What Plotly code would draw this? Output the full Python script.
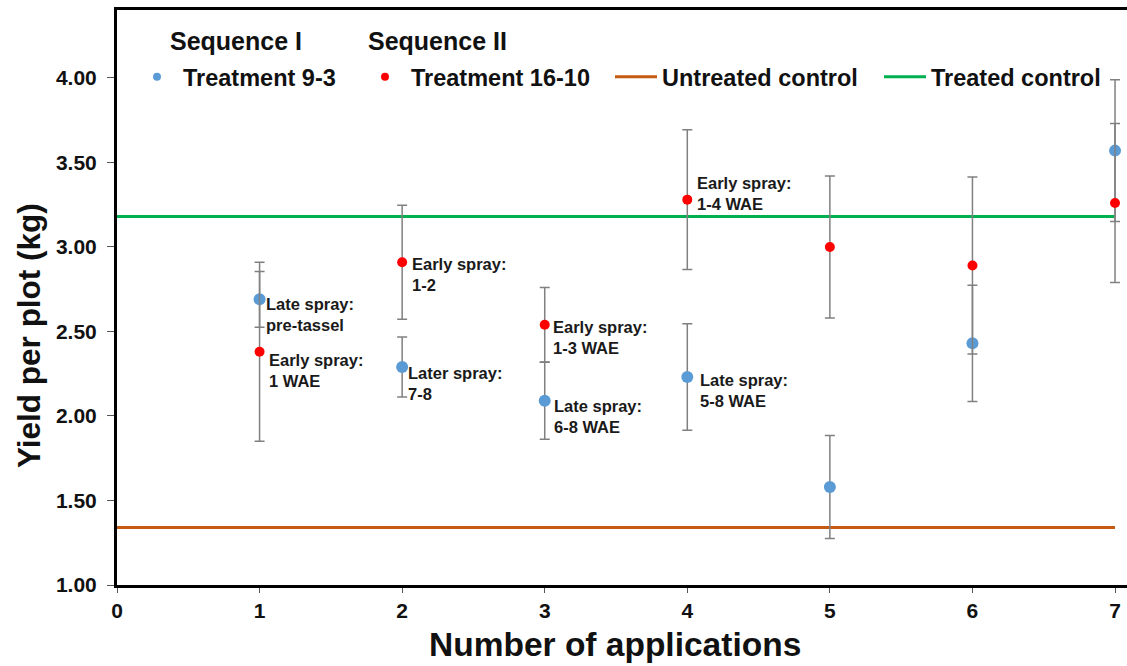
import plotly.graph_objects as go

# ---------------- data ----------------
applications = [1, 2, 3, 4, 5, 6, 7]
treat_9_3 = [2.69, 2.29, 2.09, 2.23, 1.58, 2.43, 3.57]
treat_9_3_err = [0.165, 0.177, 0.228, 0.315, 0.305, 0.344, 0.419]
treat_16_10 = [2.38, 2.91, 2.54, 3.28, 3.00, 2.89, 3.26]
treat_16_10_err = [0.53, 0.337, 0.22, 0.414, 0.42, 0.524, 0.47]
control_x = [0, 7]
untreated_control = [1.34, 1.34]
treated_control = [3.18, 3.18]

x_ticks = [0, 1, 2, 3, 4, 5, 6, 7]
y_ticks = [1.0, 1.5, 2.0, 2.5, 3.0, 3.5, 4.0]

# labels: (x, text, x-shift px, y-shift px of block centre below point)
labels_9_3 = [
    (1, "Late spray:<br>pre-tassel", 4, 15),
    (2, "Later spray:<br>7-8", 4, 17),
    (3, "Late spray:<br>6-8 WAE", 7, 16),
    (4, "Late spray:<br>5-8 WAE", 11, 13),
]
labels_16_10 = [
    (1, "Early spray:<br>1 WAE", 7, 19),
    (2, "Early spray:<br>1-2", 8, 12),
    (3, "Early spray:<br>1-3 WAE", 6, 13),
    (4, "Early spray:<br>1-4 WAE", 8, -6),
]

FONT = "Liberation Sans, Arial, sans-serif"
BLUE = "#5B9BD5"
RED = "#FF0000"
ORANGE = "#C55A11"
GREEN = "#00B050"
ERR = "#808080"

W, H = 1127, 666
ML, MR, MT, MB = 117, 0, 10, 81
PW, PH = W - ML - MR, H - MT - MB


def px(x):
    return (x - ML) / PW


def py(y):
    return (H - MB - y) / PH


fig = go.Figure()

fig.add_trace(go.Scatter(x=control_x, y=untreated_control, mode="lines",
                         line=dict(color=ORANGE, width=3), showlegend=False))
fig.add_trace(go.Scatter(x=control_x, y=treated_control, mode="lines",
                         line=dict(color=GREEN, width=3), showlegend=False))

fig.add_trace(go.Scatter(
    x=applications, y=treat_9_3, mode="markers", showlegend=False,
    marker=dict(color=BLUE, size=12),
    error_y=dict(type="data", array=treat_9_3_err, color=ERR, thickness=1.5, width=5)))
fig.add_trace(go.Scatter(
    x=applications, y=treat_16_10, mode="markers", showlegend=False,
    marker=dict(color=RED, size=10),
    error_y=dict(type="data", array=treat_16_10_err, color=ERR, thickness=1.5, width=5)))

# legend entries
fig.add_trace(go.Scatter(x=[None], y=[None], mode="markers", name="Treatment 9-3",
                         marker=dict(color=BLUE, size=8), legend="legend"))
fig.add_trace(go.Scatter(x=[None], y=[None], mode="markers", name="Treatment 16-10",
                         marker=dict(color=RED, size=8), legend="legend2"))
fig.add_trace(go.Scatter(x=[None], y=[None], mode="lines", name="Untreated control",
                         line=dict(color=ORANGE, width=3), legend="legend3"))
fig.add_trace(go.Scatter(x=[None], y=[None], mode="lines", name="Treated control",
                         line=dict(color=GREEN, width=3), legend="legend4"))

leg_font = dict(family=FONT, size=23.5, color="#111111", weight="bold")


def legend_at(xpix, iw):
    return dict(x=px(xpix), y=py(77), xanchor="left", yanchor="middle",
                orientation="h", bgcolor="rgba(0,0,0,0)", borderwidth=0,
                itemwidth=iw, font=leg_font)


lab_font = dict(family=FONT, size=16.5, color="#1a1a1a", weight="bold")
annotations = []
for x, text, dx, dy in labels_9_3:
    annotations.append(dict(x=x, y=treat_9_3[applications.index(x)], xref="x", yref="y",
                            text=text, showarrow=False, xanchor="left", yanchor="middle",
                            align="left", xshift=dx, yshift=-dy, font=lab_font))
for x, text, dx, dy in labels_16_10:
    annotations.append(dict(x=x, y=treat_16_10[applications.index(x)], xref="x", yref="y",
                            text=text, showarrow=False, xanchor="left", yanchor="middle",
                            align="left", xshift=dx, yshift=-dy, font=lab_font))

# sequence headers
head_font = dict(family=FONT, size=25, color="#111111", weight="bold")
annotations.append(dict(x=px(168), y=py(41), xref="paper", yref="paper", text="Sequence I",
                        showarrow=False, xanchor="left", yanchor="middle", font=head_font))
annotations.append(dict(x=px(366), y=py(41), xref="paper", yref="paper", text="Sequence II",
                        showarrow=False, xanchor="left", yanchor="middle", font=head_font))
# axis titles
annotations.append(dict(x=px(615), y=py(644), xref="paper", yref="paper",
                        text="Number of applications", showarrow=False,
                        xanchor="center", yanchor="middle",
                        font=dict(family=FONT, size=33.5, color="#111111", weight="bold")))
annotations.append(dict(x=px(29), y=py(336), xref="paper", yref="paper",
                        text="Yield per plot (kg)", showarrow=False, textangle=-90,
                        xanchor="center", yanchor="middle",
                        font=dict(family=FONT, size=31.5, color="#111111", weight="bold")))

fig.update_layout(
    width=W, height=H, autosize=False,
    margin=dict(l=ML, r=MR, t=MT, b=MB),
    paper_bgcolor="white", plot_bgcolor="white",
    legend=legend_at(131, 42),
    legend2=legend_at(359, 42),
    legend3=legend_at(610, 42),
    legend4=legend_at(879, 42),
    annotations=annotations,
    xaxis=dict(range=[0, 7.084], tickvals=x_ticks, ticktext=[str(v) for v in x_ticks],
               showgrid=False, zeroline=False, showline=True, linecolor="black",
               linewidth=3, mirror=True, ticks="outside", ticklen=5, tickcolor="#555555",
               tickwidth=1,
               tickfont=dict(family=FONT, size=21, color="#111111", weight="bold")),
    yaxis=dict(range=[1, 4.402], tickvals=y_ticks, ticktext=[f"{v:.2f}" for v in y_ticks],
               showgrid=False, zeroline=False, showline=True, linecolor="black",
               linewidth=3, ticks="outside", ticklen=7, tickcolor="#555555", tickwidth=1,
               ticklabelstandoff=6,
               tickfont=dict(family=FONT, size=21, color="#111111", weight="bold")),
)

fig.write_html("out.html")
